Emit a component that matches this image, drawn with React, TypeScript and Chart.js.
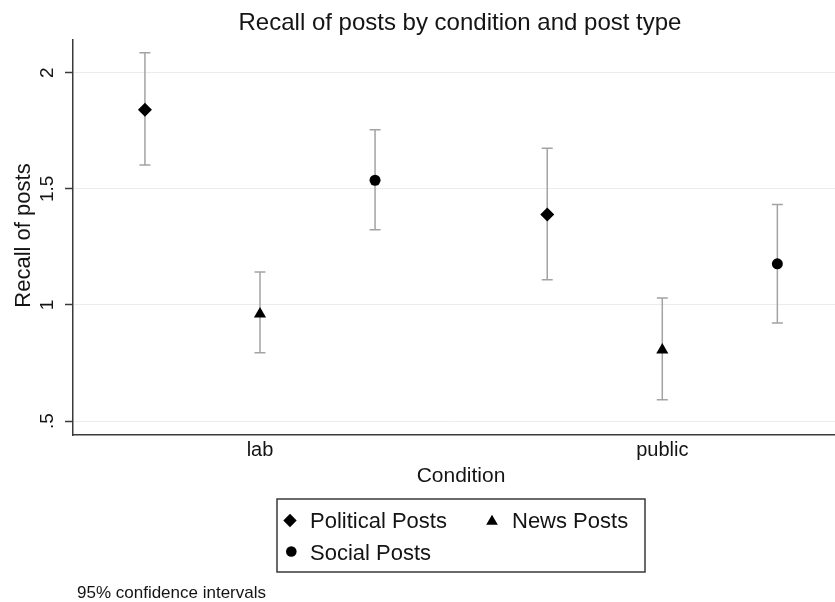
import { useEffect, useRef } from 'react';
import { Chart, registerables } from 'chart.js';

Chart.register(...registerables);

// ---- data ----
const conditions = ['lab', 'public'];
const seriesNames = ['Political Posts', 'News Posts', 'Social Posts'];

const politicalMean = [1.841, 1.39];
const politicalLow = [1.603, 1.109];
const politicalHigh = [2.086, 1.675];

const newsMean = [0.961, 0.806];
const newsLow = [0.794, 0.592];
const newsHigh = [1.142, 1.03];

const socialMean = [1.537, 1.177];
const socialLow = [1.324, 0.922];
const socialHigh = [1.754, 1.433];

const yTickValues = [0.5, 1, 1.5, 2];
const yTickLabels = ['.5', '1', '1.5', '2'];

const chartTitle = 'Recall of posts by condition and post type';
const yTitle = 'Recall of posts';
const xTitle = 'Condition';
const note = '95% confidence intervals';

// ---- styling / layout ----
const FONT = '"Liberation Sans", Arial, Helvetica, sans-serif';
const TEXT = '#141414';
const AXIS = '#3a3a3a';
const CI_COLOR = '#a3a3a3';
const groupOffsets = [-0.286, 0, 0.286];
const pointStyles = ['rectRot', 'triangle', 'circle'];
const pointRadii = [7, 7, 5.5];

const seriesMeans = [politicalMean, newsMean, socialMean];
const seriesLows = [politicalLow, newsLow, socialLow];
const seriesHighs = [politicalHigh, newsHigh, socialHigh];

function drawMarker(ctx: CanvasRenderingContext2D, style: string, x: number, y: number, r: number) {
  ctx.beginPath();
  if (style === 'rectRot') {
    ctx.moveTo(x, y - r);
    ctx.lineTo(x + r, y);
    ctx.lineTo(x, y + r);
    ctx.lineTo(x - r, y);
    ctx.closePath();
  } else if (style === 'triangle') {
    ctx.moveTo(x, y - r);
    ctx.lineTo(x + r * Math.sin((2 * Math.PI) / 3), y - r * Math.cos((2 * Math.PI) / 3));
    ctx.lineTo(x + r * Math.sin((4 * Math.PI) / 3), y - r * Math.cos((4 * Math.PI) / 3));
    ctx.closePath();
  } else {
    ctx.arc(x, y, r, 0, Math.PI * 2);
  }
  ctx.fillStyle = '#000';
  ctx.fill();
}

const errorBarPlugin = {
  id: 'errorBars',
  beforeDatasetsDraw(chart: any) {
    const ctx = chart.ctx as CanvasRenderingContext2D;
    const yScale = chart.scales.y;
    ctx.save();
    ctx.strokeStyle = CI_COLOR;
    ctx.lineWidth = 1.5;
    chart.data.datasets.forEach((ds: any, di: number) => {
      const meta = chart.getDatasetMeta(di);
      meta.data.forEach((el: any, i: number) => {
        const raw = ds.data[i];
        const x = el.x;
        const yl = yScale.getPixelForValue(raw.low);
        const yh = yScale.getPixelForValue(raw.high);
        const cap = 5.5;
        ctx.beginPath();
        ctx.moveTo(x, yl);
        ctx.lineTo(x, yh);
        ctx.moveTo(x - cap, yl);
        ctx.lineTo(x + cap, yl);
        ctx.moveTo(x - cap, yh);
        ctx.lineTo(x + cap, yh);
        ctx.stroke();
      });
    });
    ctx.restore();
  },
};

const textPlugin = {
  id: 'texts',
  afterDraw(chart: any) {
    const ctx = chart.ctx as CanvasRenderingContext2D;
    const yScale = chart.scales.y;
    ctx.save();
    ctx.fillStyle = TEXT;
    ctx.textBaseline = 'alphabetic';

    // title
    ctx.font = `24px ${FONT}`;
    ctx.textAlign = 'center';
    ctx.fillText(chartTitle, 460, 29.5);

    // y tick labels (rotated)
    ctx.font = `19px ${FONT}`;
    yTickValues.forEach((v, i) => {
      const py = yScale.getPixelForValue(v);
      ctx.save();
      ctx.translate(53, py);
      ctx.rotate(-Math.PI / 2);
      ctx.textAlign = 'center';
      ctx.fillText(yTickLabels[i], 0, 0);
      ctx.restore();
    });

    // y title
    ctx.font = `22px ${FONT}`;
    ctx.save();
    ctx.translate(30, 235.5);
    ctx.rotate(-Math.PI / 2);
    ctx.textAlign = 'center';
    ctx.fillText(yTitle, 0, 0);
    ctx.restore();

    // x title
    ctx.font = `21px ${FONT}`;
    ctx.textAlign = 'center';
    ctx.fillText(xTitle, 461, 481.7);

    // legend
    ctx.strokeStyle = AXIS;
    ctx.lineWidth = 1.5;
    ctx.strokeRect(277, 499, 368, 73);
    ctx.font = `22px ${FONT}`;
    ctx.textAlign = 'left';
    const legendItems = [
      { mx: 290, my: 520.5, r: 6.7, tx: 310, ty: 528.3 },
      { mx: 492, my: 521.5, r: 6.7, tx: 512, ty: 528.3 },
      { mx: 291.3, my: 551.5, r: 5.3, tx: 310, ty: 560 },
    ];
    legendItems.forEach((it, i) => {
      drawMarker(ctx, pointStyles[i], it.mx, it.my, it.r);
      ctx.fillStyle = TEXT;
      ctx.fillText(seriesNames[i], it.tx, it.ty);
    });

    // note
    ctx.font = `17px ${FONT}`;
    ctx.fillStyle = TEXT;
    ctx.fillText(note, 77, 598);
    ctx.restore();
  },
};

export default function App() {
  const ref = useRef<HTMLCanvasElement | null>(null);

  useEffect(() => {
    if (!ref.current) return;
    const datasets = seriesNames.map((name, si) => ({
      label: name,
      data: conditions.map((_, ci) => ({
        x: ci + 1 + groupOffsets[si],
        y: seriesMeans[si][ci],
        low: seriesLows[si][ci],
        high: seriesHighs[si][ci],
      })),
      pointStyle: pointStyles[si],
      pointRadius: pointRadii[si],
      pointBackgroundColor: '#000',
      pointBorderColor: '#000',
      pointBorderWidth: 0,
      showLine: false,
    }));

    const chart = new Chart(ref.current, {
      type: 'scatter',
      data: { datasets },
      options: {
        animation: false,
        responsive: false,
        devicePixelRatio: 1,
        layout: { autoPadding: false, padding: { left: 0, right: 0, top: 40, bottom: 0 } },
        plugins: {
          legend: { display: false },
          title: { display: false },
          tooltip: { enabled: false },
        },
        scales: {
          x: {
            type: 'linear',
            min: 0.5352,
            max: 2.4293,
            afterBuildTicks: (s: any) => {
              s.ticks = conditions.map((_, i) => ({ value: i + 1 }));
            },
            afterFit: (s: any) => {
              s.height = 167;
            },
            ticks: {
              callback: (v: any) => conditions[Math.round(v) - 1] ?? '',
              font: { family: FONT, size: 20 },
              color: TEXT,
              padding: 3,
              maxRotation: 0,
              minRotation: 0,
              autoSkip: false,
            },
            grid: { display: false, drawTicks: false },
            border: { display: true, color: AXIS, width: 1.5 },
          },
          y: {
            type: 'linear',
            min: 0.44,
            max: 2.141,
            afterBuildTicks: (s: any) => {
              s.ticks = yTickValues.map((v) => ({ value: v }));
            },
            afterFit: (s: any) => {
              s.width = 73;
            },
            ticks: { display: false },
            grid: {
              color: '#ebebeb',
              lineWidth: 1,
              drawTicks: true,
              tickLength: 8,
              tickColor: AXIS,
              tickWidth: 1.5,
            },
            border: { display: true, color: AXIS, width: 1.5 },
          },
        },
      },
      plugins: [errorBarPlugin, textPlugin],
    } as any);

    return () => chart.destroy();
  }, []);

  return (
    <div style={{ position: 'fixed', left: 0, top: 0, width: 835, height: 602, background: '#fff' }}>
      <canvas ref={ref} width={835} height={602} style={{ display: 'block' }} />
    </div>
  );
}
